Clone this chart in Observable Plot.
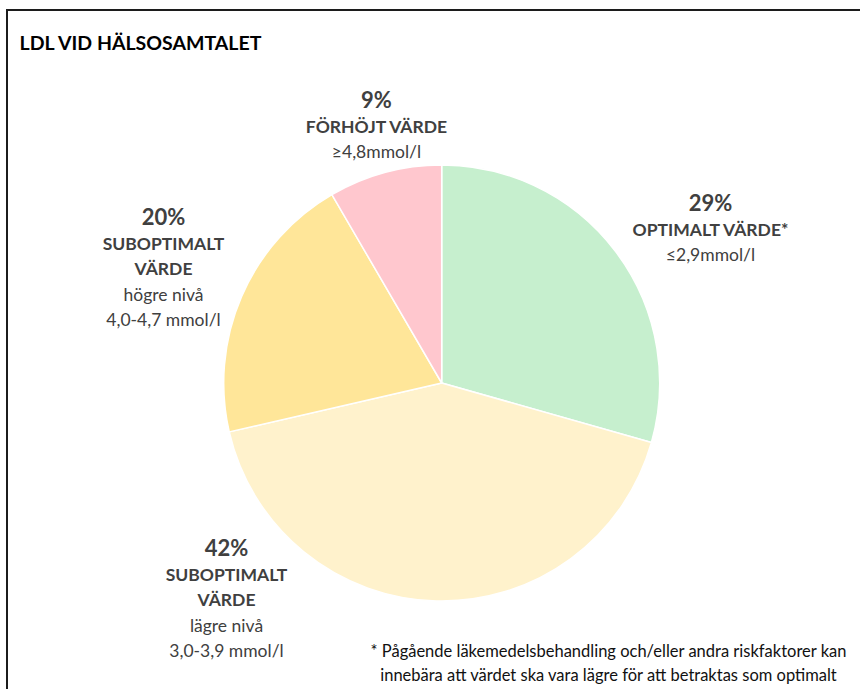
<!DOCTYPE html>
<html>
<head>
<meta charset="utf-8">
<script src="https://cdn.jsdelivr.net/npm/d3@7"></script>
<script src="https://cdn.jsdelivr.net/npm/@observablehq/plot@0.6"></script>
<style>
  html, body { margin: 0; padding: 0; background: #fff; }
  #wrap { position: relative; width: 860px; height: 689px; overflow: hidden; }
  #frame { position: absolute; left: 6px; top: 9px; width: 900px; height: 800px; border: 2px solid #1c1c1c; box-sizing: border-box; pointer-events: none; }
  svg { font-family: Lato, "Open Sans", sans-serif; }
</style>
</head>
<body>
<div id="wrap"><div id="frame"></div></div>
<script>
// ---- data ----
const categories = ["OPTIMALT VÄRDE*", "SUBOPTIMALT VÄRDE lägre nivå", "SUBOPTIMALT VÄRDE högre nivå", "FÖRHÖJT VÄRDE"];
const shares = [29.4, 42.0, 20.2, 8.4];
const pctLabels = ["29%", "42%", "20%", "9%"];
const nameLabels = ["OPTIMALT VÄRDE*", "SUBOPTIMALT\nVÄRDE", "SUBOPTIMALT\nVÄRDE", "FÖRHÖJT VÄRDE"];
const rangeLabels = ["≤2,9mmol/l", "lägre nivå\n3,0-3,9 mmol/l", "högre nivå\n4,0-4,7 mmol/l", "≥4,8mmol/l"];
const sliceColors = ["#C6EFCE", "#FFF2CC", "#FFE699", "#FFC7CE"];
const titleText = "LDL VID HÄLSOSAMTALET";
const footnoteLines = [
  "* Pågående läkemedelsbehandling och/eller andra riskfaktorer kan",
  "innebära att värdet ska vara lägre för att betraktas som optimalt"
];

// ---- layout (chart coordinates) ----
const pie = {cx: 441.7, cy: 383, r: 218};
const labelPos = [
  {x: 710, y: 203},
  {x: 226, y: 548},
  {x: 163, y: 217},
  {x: 376, y: 100}
];

const colorScale = Plot.scale({color: {type: "ordinal", domain: categories, range: sliceColors}});

const slices = d3.pie().sort(null).value(d => d.share)(
  categories.map((c, i) => ({category: c, share: shares[i]}))
);

function pieMark(index, scales) {
  const sx = scales.x || (v => v), sy = scales.y || (v => v);
  const cx = sx(pie.cx), cy = sy(pie.cy);
  const r = Math.abs(sx(pie.cx + pie.r) - cx);
  const arc = d3.arc().innerRadius(0).outerRadius(r);
  const g = d3.create("svg:g").attr("transform", `translate(${cx},${cy})`);
  g.selectAll("path").data(slices).join("path")
    .attr("d", arc)
    .attr("fill", d => colorScale.apply(d.data.category))
    .attr("stroke", "#fff")
    .attr("stroke-width", 1.5)
    .attr("stroke-linejoin", "round");
  return g.node();
}

// label rows
const rows = [];
categories.forEach((c, i) => {
  const p = labelPos[i];
  rows.push({text: pctLabels[i], x: p.x, y: p.y, kind: "pct"});
  let k = 1;
  for (const line of nameLabels[i].split("\n")) {
    rows.push({text: line, x: p.x, y: p.y + 27 + 25.3 * (k - 1), kind: "name"}); k++;
  }
  for (const line of rangeLabels[i].split("\n")) {
    rows.push({text: line, x: p.x, y: p.y + 27 + 25.3 * (k - 1), kind: "range"}); k++;
  }
});

const footRows = footnoteLines.map((t, i) => ({text: t, x: 608, y: 651 + 24 * i}));

const chart = Plot.plot({
  width: 860,
  height: 689,
  margin: 0,
  style: {background: "transparent", overflow: "visible"},
  x: {domain: [0, 860], range: [0, 860], axis: null},
  y: {domain: [0, 689], range: [0, 689], axis: null},
  marks: [
    pieMark,
    Plot.text([titleText], {x: () => 19, y: () => 43, text: d => d, textAnchor: "start", fontSize: 19.5, fontWeight: "bold", fill: "#000"}),
    Plot.text(rows.filter(d => d.kind === "pct"), {x: "x", y: "y", text: "text", fontSize: 22, fontWeight: "bold", fill: "#404040"}),
    Plot.text(rows.filter(d => d.kind === "name"), {x: "x", y: "y", text: "text", fontSize: 17.5, fontWeight: "bold", fill: "#404040"}),
    Plot.text(rows.filter(d => d.kind === "range"), {x: "x", y: "y", text: "text", fontSize: 17.5, fill: "#404040"}),
    Plot.text(footRows, {x: "x", y: "y", text: "text", fontSize: 16.5, fill: "#111"})
  ]
});
document.getElementById("wrap").prepend(chart);
</script>
</body>
</html>
